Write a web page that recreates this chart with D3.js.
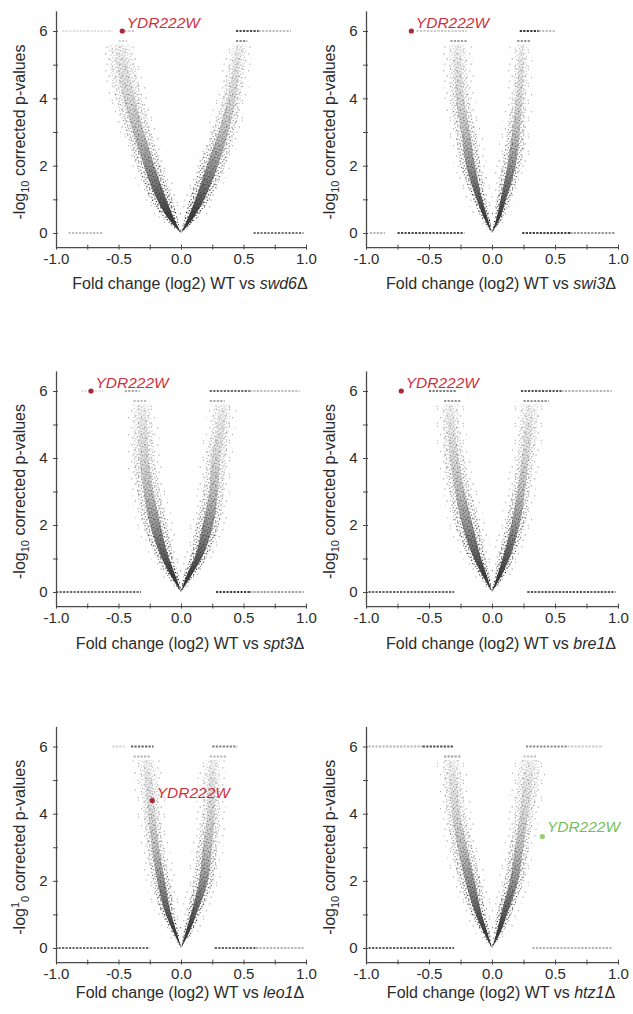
<!DOCTYPE html>
<html>
<head>
<meta charset="utf-8">
<script src="https://cdn.jsdelivr.net/npm/d3@7"></script>
<style>
  body { margin: 0; background: #fff; }
  svg text { font-family: 'Liberation Sans', Arial, sans-serif; }
</style>
</head>
<body>
<svg id="chart" width="633" height="1014"></svg>
<script>
// ---- data ----
const strains = ['swd6', 'swi3', 'spt3', 'bre1', 'leo1', 'htz1']

// -log10 p levels at which the extent of each arm of the V was read
const levels = [0, 0.5, 1, 2, 3, 4, 5, 5.6]

// log2 fold change extent of the gene cloud, one row per strain
const leftOuter = [
  [0, -0.15, -0.24, -0.35, -0.44, -0.52, -0.57, -0.58],
  [0, -0.09, -0.15, -0.25, -0.29, -0.33, -0.34, -0.34],
  [0, -0.11, -0.19, -0.30, -0.35, -0.38, -0.38, -0.38],
  [0, -0.10, -0.18, -0.29, -0.34, -0.38, -0.39, -0.40],
  [0, -0.08, -0.15, -0.23, -0.27, -0.30, -0.33, -0.34],
  [0, -0.09, -0.16, -0.26, -0.32, -0.36, -0.38, -0.39],
]
const leftInner = [
  [0, -0.03, -0.07, -0.16, -0.24, -0.31, -0.37, -0.41],
  [0, -0.02, -0.05, -0.09, -0.13, -0.18, -0.20, -0.21],
  [0, -0.02, -0.06, -0.11, -0.17, -0.21, -0.23, -0.25],
  [0, -0.02, -0.05, -0.10, -0.17, -0.22, -0.26, -0.27],
  [0, -0.02, -0.05, -0.09, -0.14, -0.17, -0.19, -0.22],
  [0, -0.02, -0.05, -0.09, -0.15, -0.21, -0.24, -0.26],
]
const rightInner = [
  [0, 0.03, 0.07, 0.15, 0.25, 0.33, 0.38, 0.41],
  [0, 0.02, 0.04, 0.08, 0.12, 0.16, 0.18, 0.19],
  [0, 0.02, 0.07, 0.12, 0.18, 0.20, 0.25, 0.26],
  [0, 0.02, 0.05, 0.11, 0.16, 0.20, 0.22, 0.23],
  [0, 0.02, 0.05, 0.10, 0.13, 0.17, 0.18, 0.20],
  [0, 0.02, 0.04, 0.10, 0.14, 0.18, 0.20, 0.22],
]
const rightOuter = [
  [0, 0.14, 0.23, 0.35, 0.43, 0.48, 0.51, 0.53],
  [0, 0.09, 0.14, 0.23, 0.26, 0.27, 0.28, 0.28],
  [0, 0.11, 0.20, 0.31, 0.34, 0.36, 0.39, 0.40],
  [0, 0.10, 0.17, 0.26, 0.30, 0.33, 0.36, 0.37],
  [0, 0.09, 0.15, 0.26, 0.29, 0.31, 0.31, 0.31],
  [0, 0.09, 0.15, 0.25, 0.29, 0.33, 0.37, 0.38],
]

// how crowded the cloud looks at each level (0..1)
const cloudDensity = [1, 1, 0.85, 0.62, 0.48, 0.38, 0.3, 0.2]
const coreDensity = [1, 0.95, 0.8, 0.5, 0.28, 0.16, 0.1, 0.04]

// genes piled up on the capped values: [-log10 p, fold from, fold to, density]
const streaks = [
  [[0, -0.9, -0.62, 0.3], [0, 0.58, 0.98, 0.65], [6, -0.95, -0.55, 0.15], [6, -0.45, -0.37, 0.25],
   [6, 0.44, 0.62, 0.85], [6, 0.62, 0.88, 0.3], [5.7, 0.44, 0.53, 0.55], [5.7, -0.5, -0.43, 0.2]],
  [[0, -0.97, -0.85, 0.35], [0, -0.75, -0.22, 0.85], [0, 0.24, 0.62, 0.9], [0, 0.62, 0.98, 0.5],
   [6, -0.6, -0.2, 0.25], [6, 0.22, 0.37, 0.95], [6, 0.37, 0.5, 0.3], [5.7, -0.33, -0.2, 0.45], [5.7, 0.2, 0.3, 0.5]],
  [[0, -1, -0.32, 0.7], [0, 0.28, 0.55, 0.9], [0, 0.55, 0.98, 0.45], [6, -0.8, -0.62, 0.15],
   [6, -0.45, -0.33, 0.4], [6, 0.23, 0.55, 0.7], [6, 0.55, 0.95, 0.3], [5.7, -0.38, -0.28, 0.3], [5.7, 0.23, 0.35, 0.4]],
  [[0, -0.98, -0.3, 0.75], [0, 0.28, 0.98, 0.8], [6, -0.5, -0.28, 0.6], [6, 0.23, 0.55, 0.8],
   [6, 0.55, 0.95, 0.35], [5.7, -0.38, -0.25, 0.5], [5.7, 0.25, 0.45, 0.5]],
  [[0, -0.98, -0.25, 0.7], [0, 0.27, 0.6, 0.75], [0, 0.6, 0.98, 0.35], [6, -0.55, -0.45, 0.2],
   [6, -0.4, -0.22, 0.75], [6, 0.25, 0.45, 0.6], [5.7, -0.38, -0.24, 0.35], [5.7, 0.23, 0.36, 0.35]],
  [[0, -0.98, -0.3, 0.75], [0, 0.32, 0.95, 0.35], [6, -0.98, -0.55, 0.35], [6, -0.55, -0.3, 0.85],
   [6, 0.27, 0.6, 0.55], [6, 0.6, 0.88, 0.25], [5.7, -0.38, -0.25, 0.45], [5.7, 0.25, 0.35, 0.3]],
]

// the highlighted gene
const geneName = 'YDR222W'
const geneFold = [-0.47, -0.64, -0.72, -0.72, -0.23, 0.4]
const genePval = [6, 6, 6, 6, 4.39, 3.32]

const xTickValues = [-1, -0.75, -0.5, -0.25, 0, 0.25, 0.5, 0.75, 1]
const xTickLabels = [-1, -0.5, 0, 0.5, 1]
const yTickValues = [0, 1, 2, 3, 4, 5, 6]
const yTickLabels = [0, 2, 4, 6]

// ---- layout ----
const cols = [[56, 306], [366, 618]]          // x pixel of fold -1 and 1
const rows = [[233, 31], [592, 391], [948, 746.5]] // y pixel of -log10 p 0 and 6
const titleOffset = [42, 43, 36]
const yMin = -0.42
const yMax = 6.6
const haloPad = 0.05 // ragged fringe of sparse points round each arm
const axisColor = '#4a4a4a'
const textColor = '#2b2b2b'
const red = '#cf2f3d'
const green = '#74bf5c'

const svg = d3.select('#chart')
svg.append('rect').attr('width', 633).attr('height', 1014).attr('fill', '#fff')
const defs = svg.append('defs')

// stipple textures for the clouds of genes (irregular tiles so they do not read as a grid)
function stipple(id, w, h, dots) {
  const p = defs.append('pattern')
    .attr('id', id)
    .attr('patternUnits', 'userSpaceOnUse')
    .attr('width', w)
    .attr('height', h)
  dots.forEach(([px, py, s]) => {
    p.append('rect').attr('x', px).attr('y', py).attr('width', s).attr('height', s).attr('fill', '#1e1e1e')
  })
}
stipple('stip', 11, 9, [
  [0.3, 0.4, 1.3], [3.6, 1.1, 1.1], [6.2, 0.2, 1.2], [8.9, 1.6, 1.3], [1.7, 3.0, 1.2],
  [5.1, 3.6, 1.4], [7.6, 4.1, 1.1], [9.8, 5.0, 1.2], [0.6, 5.6, 1.1], [3.2, 6.1, 1.3],
  [6.0, 7.3, 1.2], [8.4, 7.8, 1.1], [2.2, 8.0, 1.0], [4.4, 4.6, 0.9],
])
stipple('sparse', 13, 17, [
  [1.2, 2.3, 1.1], [8.1, 0.7, 1.0], [4.6, 7.4, 1.2], [11.0, 9.2, 1.0], [2.5, 12.6, 1.1], [7.7, 14.8, 1.0],
])

strains.forEach((strain, i) => {
  const [left, right] = cols[i % 2]
  const row = Math.floor(i / 2)
  const [y0px, y6px] = rows[row]

  const x = d3.scaleLinear().domain([-1, 1]).range([left, right])
  const y = d3.scaleLinear().domain([0, 6]).range([y0px, y6px])
  const yAxisScale = d3.scaleLinear().domain([yMin, yMax]).range([y(yMin), y(yMax)])

  const g = svg.append('g').attr('id', 'panel-' + strain)
  const top = levels[levels.length - 1]

  // fading of the cloud with -log10 p
  const fade = defs.append('linearGradient')
    .attr('id', 'fade-' + i)
    .attr('gradientUnits', 'userSpaceOnUse')
    .attr('x1', 0).attr('x2', 0)
    .attr('y1', y(0)).attr('y2', y(top))
  levels.forEach((lv, j) => {
    fade.append('stop').attr('offset', lv / top).attr('stop-color', '#fff').attr('stop-opacity', cloudDensity[j])
  })
  defs.append('mask')
    .attr('id', 'mask-' + i)
    .attr('maskUnits', 'userSpaceOnUse')
    .attr('x', 0).attr('y', 0).attr('width', 633).attr('height', 1014)
    .append('rect')
    .attr('x', left).attr('y', y(yMax))
    .attr('width', right - left).attr('height', y(yMin) - y(yMax))
    .attr('fill', `url(#fade-${i})`)

  const core = defs.append('linearGradient')
    .attr('id', 'core-' + i)
    .attr('gradientUnits', 'userSpaceOnUse')
    .attr('x1', 0).attr('x2', 0)
    .attr('y1', y(0)).attr('y2', y(top))
  levels.forEach((lv, j) => {
    core.append('stop').attr('offset', lv / top).attr('stop-color', '#333').attr('stop-opacity', coreDensity[j])
  })

  const pts = levels.map((lv, j) => ({
    lv,
    lo: leftOuter[i][j],
    li: leftInner[i][j],
    ri: rightInner[i][j],
    ro: rightOuter[i][j],
  }))

  const arm = (a, b, f0, f1, pad = 0) =>
    d3.area()
      .curve(d3.curveMonotoneY)
      .y((d) => y(d.lv))
      .x0((d) => x(d[a] + (d[b] - d[a]) * f0 - (d.lv > 0 ? pad : 0)))
      .x1((d) => x(d[a] + (d[b] - d[a]) * f1 + (d.lv > 0 ? pad : 0)))

  const cloud = g.append('g').attr('id', 'cloud')
  ;[['lo', 'li'], ['ri', 'ro']].forEach(([a, b]) => {
    cloud.append('path')
      .attr('d', arm(a, b, 0, 1, haloPad)(pts))
      .attr('fill', 'url(#sparse)')
      .attr('opacity', 0.45)
    cloud.append('path')
      .attr('d', arm(a, b, 0, 1)(pts))
      .attr('fill', 'url(#stip)')
      .attr('mask', `url(#mask-${i})`)
    cloud.append('path')
      .attr('d', arm(a, b, 0.28, 0.72)(pts))
      .attr('fill', `url(#core-${i})`)
  })

  // capped values
  g.append('g')
    .attr('id', 'streaks')
    .selectAll('line')
    .data(streaks[i])
    .join('line')
    .attr('x1', (d) => x(d[1]))
    .attr('x2', (d) => x(d[2]))
    .attr('y1', (d) => y(d[0]))
    .attr('y2', (d) => y(d[0]))
    .attr('stroke', '#2a2a2a')
    .attr('stroke-width', 2)
    .attr('stroke-dasharray', '2.2 1.3')
    .attr('stroke-opacity', (d) => d[3])

  // axes
  const xAxis = g.append('g')
    .attr('transform', `translate(0,${y(yMin)})`)
    .call(
      d3.axisBottom(x)
        .tickValues(xTickValues)
        .tickSize(0)
        .tickFormat((d) => (xTickLabels.includes(d) ? d.toFixed(1) : ''))
    )
  xAxis.select('.domain').attr('stroke', axisColor).attr('stroke-width', 1.3)
  xAxis.selectAll('.tick line').attr('y1', -2.5).attr('y2', 2.5).attr('stroke', axisColor)
  xAxis.selectAll('.tick text')
    .attr('y', 17).attr('dy', 0)
    .attr('font-size', 15).attr('fill', textColor)
    .attr('font-family', null)

  const yAxis = g.append('g')
    .attr('transform', `translate(${left},0)`)
    .call(
      d3.axisLeft(yAxisScale)
        .tickValues(yTickValues)
        .tickSize(0)
        .tickFormat((d) => (yTickLabels.includes(d) ? d : ''))
    )
  yAxis.select('.domain').attr('stroke', axisColor).attr('stroke-width', 1.3)
  yAxis.selectAll('.tick line').attr('x1', -3).attr('x2', 2).attr('stroke', axisColor)
  yAxis.selectAll('.tick text')
    .attr('x', -8.5)
    .attr('font-size', 15).attr('fill', textColor)
    .attr('font-family', null)

  // axis titles
  const xt = g.append('text')
    .attr('x', (left + right) / 2 + 9)
    .attr('y', y(yMin) + titleOffset[row])
    .attr('text-anchor', 'middle')
    .attr('font-size', 16)
    .attr('fill', textColor)
  xt.append('tspan').text('Fold change (log2) WT vs ')
  xt.append('tspan').attr('font-style', 'italic').text(strain)
  xt.append('tspan').text('\u0394')

  const yt = g.append('text')
    .attr('transform', `translate(${left - 31},${y(3)}) rotate(-90)`)
    .attr('text-anchor', 'middle')
    .attr('font-size', 16)
    .attr('fill', textColor)
  yt.append('tspan').text('-log')
  if (strain === 'leo1') {
    // the original label has the 1 raised and the 0 lowered
    yt.append('tspan').attr('font-size', 11).attr('dy', -6).text('1')
    yt.append('tspan').attr('font-size', 11).attr('dy', 10).text('0')
    yt.append('tspan').attr('dy', -4).text(' corrected p-values')
  } else {
    yt.append('tspan').attr('font-size', 11).attr('dy', 4).text('10')
    yt.append('tspan').attr('dy', -4).text(' corrected p-values')
  }

  // highlighted gene
  const up = geneFold[i] > 0
  g.append('circle')
    .attr('cx', x(geneFold[i]))
    .attr('cy', y(genePval[i]))
    .attr('r', 2.6)
    .attr('fill', up ? '#9ccf74' : '#a82a36')
  g.append('text')
    .attr('x', x(geneFold[i]) + 4.5)
    .attr('y', y(genePval[i]) - (up ? 5 : 3))
    .attr('font-size', 15.5)
    .attr('font-style', 'italic')
    .attr('fill', up ? green : red)
    .text(geneName)
})
</script>
</body>
</html>
